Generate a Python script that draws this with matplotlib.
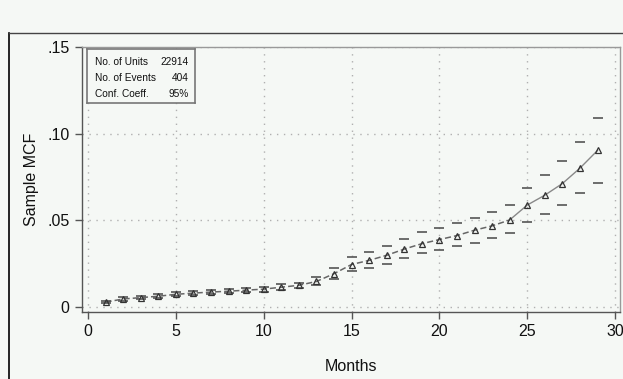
import matplotlib
matplotlib.use("Agg")
import matplotlib.pyplot as plt
from matplotlib.lines import Line2D
import numpy as np

# Sample mean cumulative function by month, with 95% confidence limits
months = list(range(1, 30))
mcf = [0.0028, 0.0046, 0.0054, 0.0062, 0.0073, 0.0080, 0.0086, 0.0091, 0.0097, 0.0103,
       0.0114, 0.0125, 0.0147, 0.0192, 0.0245, 0.0269, 0.0298, 0.0334, 0.0365, 0.0389,
       0.0412, 0.0443, 0.0468, 0.0502, 0.0588, 0.0645, 0.0712, 0.0801, 0.0903]
lower = [0.0021, 0.0037, 0.0045, 0.0052, 0.0062, 0.0068, 0.0074, 0.0078, 0.0084, 0.0089,
         0.0099, 0.0110, 0.0128, 0.0159, 0.0206, 0.0225, 0.0248, 0.0280, 0.0309, 0.0328,
         0.0349, 0.0372, 0.0399, 0.0428, 0.0492, 0.0536, 0.0586, 0.0657, 0.0717]
upper = [0.0035, 0.0055, 0.0064, 0.0072, 0.0084, 0.0092, 0.0099, 0.0104, 0.0110, 0.0118,
         0.0130, 0.0140, 0.0175, 0.0226, 0.0290, 0.0320, 0.0353, 0.0391, 0.0433, 0.0458,
         0.0487, 0.0513, 0.0546, 0.0586, 0.0689, 0.0763, 0.0842, 0.0952, 0.1093]

summary_labels = ["No. of Units", "No. of Events", "Conf. Coeff."]
summary_values = ["22914", "404", "95%"]

x_ticks = [0, 5, 10, 15, 20, 25, 30]
y_ticks = [0, 0.05, 0.10, 0.15]
y_tick_labels = ["0", ".05", ".10", ".15"]

bg = "#f5f8f5"
plt.rcParams["font.family"] = ["Liberation Sans", "DejaVu Sans"]

W, H = 623, 379
fig = plt.figure(figsize=(W / 100, H / 100), dpi=100, facecolor=bg)

# outer graph frame (top and left edges)
fig.add_artist(Line2D([9 / W, 9 / W], [0, 1 - 33 / H], transform=fig.transFigure,
                      color="black", lw=1.2))
fig.add_artist(Line2D([9 / W, 1], [1 - 33 / H, 1 - 33 / H], transform=fig.transFigure,
                      color="#444444", lw=1.0))

ax = fig.add_axes([82 / W, 1 - 312 / H, (620 - 82) / W, (312 - 47) / H])
ax.set_facecolor(bg)
ax.set_xlim(-0.34, 30.28)
ax.set_ylim(-0.0029, 0.1489)

for side in ["left", "bottom"]:
    ax.spines[side].set_color("#555555")
    ax.spines[side].set_linewidth(1.0)
for side in ["top", "right"]:
    ax.spines[side].set_color("#999999")
    ax.spines[side].set_linewidth(1.0)

ax.set_xticks(x_ticks)
ax.set_yticks(y_ticks)
ax.set_yticklabels(y_tick_labels)
ax.tick_params(axis="both", direction="out", length=5, width=1, color="#555555",
               labelsize=11.5, labelcolor="#111111", pad=4)
ax.grid(True, linestyle=(0, (1, 4)), color="#b0b0b0", linewidth=1.0)
ax.set_axisbelow(True)

# connecting line: dashed through month 24, solid afterwards
ax.plot(months[:24], mcf[:24], color="#666666", lw=1.1, linestyle=(0, (4, 2)), zorder=3)
ax.plot(months[23:], mcf[23:], color="#888888", lw=1.0, zorder=3)

# confidence limits as short horizontal dashes
ax.plot(months, lower, linestyle="none", marker="_", markersize=6.5, markeredgewidth=1.2,
        color="#555555", zorder=4)
ax.plot(months, upper, linestyle="none", marker="_", markersize=6.5, markeredgewidth=1.2,
        color="#555555", zorder=4)

# MCF estimates as hollow triangles
ax.plot(months, mcf, linestyle="none", marker="^", markersize=5, markerfacecolor="none",
        markeredgecolor="#333333", markeredgewidth=0.9, zorder=5)

ax.set_xlabel("Months", fontsize=11.5, color="#111111", labelpad=14)
ax.set_ylabel("Sample MCF", fontsize=11.5, color="#111111", labelpad=6)

# summary table box in the upper left corner
box = ax.inset_axes([(87 - 82) / (620 - 82), (312 - 103) / (312 - 47),
                     (195 - 87) / (620 - 82), (103 - 49) / (312 - 47)])
box.set_xticks([])
box.set_yticks([])
box.set_facecolor(bg)
for s in box.spines.values():
    s.set_color("#777777")
    s.set_linewidth(1.2)
box.set_xlim(0, 1)
box.set_ylim(0, 1)
row_y = [0.76, 0.46, 0.16]
for lab, val, yy in zip(summary_labels, summary_values, row_y):
    box.text(0.07, yy, lab, fontsize=7.3, va="center", ha="left", color="#111111")
    box.text(0.94, yy, val, fontsize=7.3, va="center", ha="right", color="#111111")

fig.savefig("out.png", dpi=100, facecolor=bg)
